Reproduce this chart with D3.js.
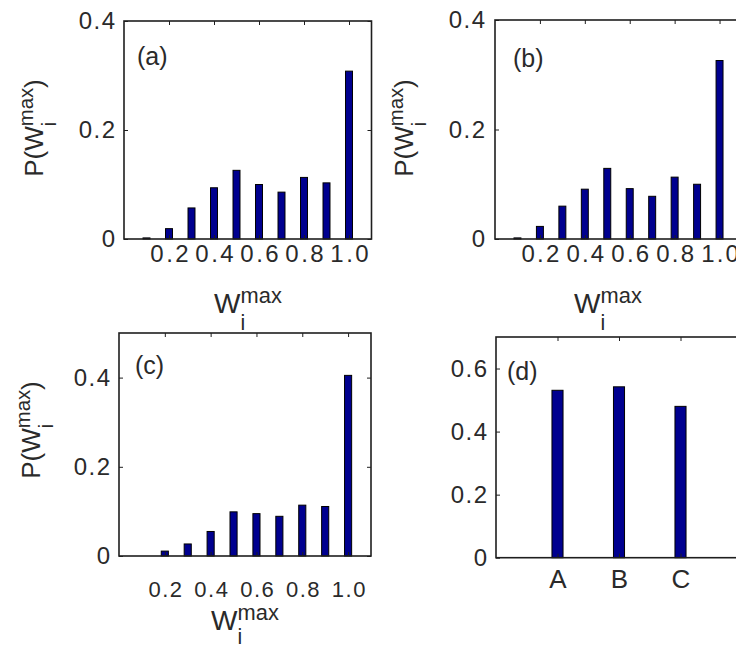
<!DOCTYPE html>
<html>
<head>
<meta charset="utf-8">
<script src="https://cdn.jsdelivr.net/npm/d3@7/dist/d3.min.js"></script>
<style>
  html, body { margin: 0; padding: 0; background: #fff; }
  svg { display: block; }
  text { font-family: "Liberation Sans", Arial, Helvetica, sans-serif; fill: #2a2a2a; }
</style>
</head>
<body>
<svg id="chart" width="736" height="646"></svg>
<script>
// ---------------- data ----------------
const wValues = [0.1, 0.2, 0.3, 0.4, 0.5, 0.6, 0.7, 0.8, 0.9, 1.0];
const probA = [0.002, 0.019, 0.057, 0.094, 0.126, 0.100, 0.086, 0.113, 0.103, 0.308];
const probB = [0.002, 0.023, 0.060, 0.091, 0.129, 0.092, 0.078, 0.113, 0.100, 0.326];
const probC = [0.000, 0.011, 0.027, 0.055, 0.099, 0.095, 0.089, 0.114, 0.111, 0.405];
const groupCats = ["A", "B", "C"];
const groupVals = [0.531, 0.542, 0.480];
const wTicks = [0.2, 0.4, 0.6, 0.8, 1.0];
const wTickLabels = ["0.2", "0.4", "0.6", "0.8", "1.0"];
const yTicks04 = [0, 0.2, 0.4];
const yTicks06 = [0, 0.2, 0.4, 0.6];

// ---------------- styling ----------------
const BAR_FILL = "#00008f";
const AXIS_COL = "#1e1e1e";
const svg = d3.select("#chart");

function yFmt(d) { return d === 0 ? "0" : d.toFixed(1); }

function mathLabel(parent, prefix, suffix, fs, subDrop, supRise) {
  const t = parent.append("text").attr("font-size", fs);
  t.append("tspan").text(prefix + "W");
  const sub = t.append("tspan").attr("font-size", fs * 0.76).attr("dy", subDrop).text("i");
  const subW = sub.node().getComputedTextLength();
  t.append("tspan").attr("font-size", fs * 0.78).attr("dx", -subW).attr("dy", -subDrop - supRise).text("max");
  if (suffix) t.append("tspan").attr("dy", supRise).text(suffix);
  return t;
}

function drawPanel(cfg) {
  const g = svg.append("g");
  const x = d3.scaleLinear().domain(cfg.xDomain).range([cfg.left, cfg.right]);
  const y = d3.scaleLinear().domain(cfg.yDomain).range([cfg.bottom, cfg.top]);

  // bars
  g.append("g").selectAll("rect")
    .data(cfg.values.map((v, i) => ({ k: cfg.keys[i], v })))
    .join("rect")
    .filter(d => d.v > 0)
    .attr("x", d => x(d.k - cfg.barW / 2))
    .attr("width", d => x(d.k + cfg.barW / 2) - x(d.k - cfg.barW / 2))
    .attr("y", d => y(d.v))
    .attr("height", d => y(0) - y(d.v))
    .attr("fill", BAR_FILL)
    .attr("stroke", "#000")
    .attr("stroke-width", 1);

  // axes
  const left = d3.axisLeft(y).tickValues(cfg.yTicks).tickFormat(yFmt)
    .tickSizeInner(-4).tickSizeOuter(0).tickPadding(cfg.yPad);
  const right = d3.axisRight(y).tickValues(cfg.yTicks).tickFormat("")
    .tickSizeInner(-4).tickSizeOuter(0);
  const bottom = d3.axisBottom(x).tickValues(cfg.xTicks)
    .tickFormat((d, i) => cfg.xTickLabels[i])
    .tickSizeInner(-4).tickSizeOuter(0).tickPadding(cfg.xPad);
  const top = d3.axisTop(x).tickValues(cfg.xTicks).tickFormat("")
    .tickSizeInner(-4).tickSizeOuter(0);

  const gl = g.append("g").attr("transform", `translate(${cfg.left},0)`).call(left);
  const gr = g.append("g").attr("transform", `translate(${cfg.right},0)`).call(right);
  const gb = g.append("g").attr("transform", `translate(0,${cfg.bottom})`).call(bottom);
  const gt = g.append("g").attr("transform", `translate(0,${cfg.top})`).call(top);
  [gl, gr, gb, gt].forEach(a => {
    a.select(".domain").remove();
    a.selectAll("line").attr("stroke", AXIS_COL).attr("stroke-width", 1);
    a.selectAll("text").attr("font-family", null).attr("fill", "#2a2a2a");
  });
  gl.selectAll("text").attr("font-size", cfg.yFont).attr("letter-spacing", cfg.yLS)
    .attr("dx", cfg.yLS);
  gb.selectAll("text").attr("font-size", cfg.xFont).attr("letter-spacing", cfg.xLS)
    .attr("dx", cfg.xLS / 2);

  // box
  g.append("rect")
    .attr("x", cfg.left).attr("y", cfg.top)
    .attr("width", cfg.right - cfg.left).attr("height", cfg.bottom - cfg.top)
    .attr("fill", "none").attr("stroke", AXIS_COL).attr("stroke-width", 1.6);

  // panel tag
  g.append("text").attr("x", cfg.tag[1]).attr("y", cfg.tag[2])
    .attr("font-size", 25).text(cfg.tag[0]);

  // axis labels
  if (cfg.xLab) {
    const lg = g.append("g");
    const t = mathLabel(lg, "", "", 28, cfg.xLab[2], 10);
    const bb = t.node().getBBox();
    lg.attr("transform", `translate(${cfg.xLab[0] - bb.width / 2},${cfg.xLab[1]})`);
  }
  if (cfg.yLab) {
    const lg = g.append("g");
    const inner = lg.append("g");
    const t = mathLabel(inner, "P(", ")", 26, 13, 10);
    const bb = t.node().getBBox();
    inner.attr("transform", `translate(${-bb.width / 2},0)`);
    lg.attr("transform", `translate(${cfg.yLab[0]},${cfg.yLab[1]}) rotate(-90)`);
  }
}

drawPanel({
  left: 124, right: 371.5, top: 21, bottom: 239,
  xDomain: [0, 1.1], yDomain: [0, 0.4],
  keys: wValues, values: probA, barW: 0.031,
  yTicks: yTicks04, xTicks: wTicks, xTickLabels: wTickLabels,
  yPad: 9, xPad: 6, yFont: 24, xFont: 24, yLS: 1.5, xLS: 2.5,
  tag: ["(a)", 137, 65], xLab: [248, 313, 17], yLab: [43, 128]
});
drawPanel({
  left: 495, right: 742, top: 20, bottom: 239,
  xDomain: [0, 1.1], yDomain: [0, 0.4],
  keys: wValues, values: probB, barW: 0.031,
  yTicks: yTicks04, xTicks: wTicks, xTickLabels: wTickLabels,
  yPad: 10, xPad: 6, yFont: 24, xFont: 24, yLS: 1.5, xLS: 2.2,
  tag: ["(b)", 513, 67], xLab: [608, 313, 17], yLab: [413, 128]
});
drawPanel({
  left: 119, right: 371, top: 333, bottom: 556,
  xDomain: [0, 1.1], yDomain: [0, 0.5],
  keys: wValues, values: probC, barW: 0.031,
  yTicks: yTicks04, xTicks: wTicks, xTickLabels: wTickLabels,
  yPad: 9, xPad: 25, yFont: 24, xFont: 22, yLS: 1.5, xLS: 1.5,
  tag: ["(c)", 135, 374], xLab: [245, 630, 14], yLab: [40, 430]
});
drawPanel({
  left: 496, right: 742, top: 337, bottom: 557.7,
  xDomain: [0, 4], yDomain: [0, 0.7],
  keys: [1, 2, 3], values: groupVals, barW: 0.18,
  yTicks: yTicks06, xTicks: [1, 2, 3], xTickLabels: groupCats,
  yPad: 9, xPad: 12, yFont: 24, xFont: 26, yLS: 1.5, xLS: 0,
  tag: ["(d)", 507, 380], xLab: null, yLab: null
});
</script>
</body>
</html>
